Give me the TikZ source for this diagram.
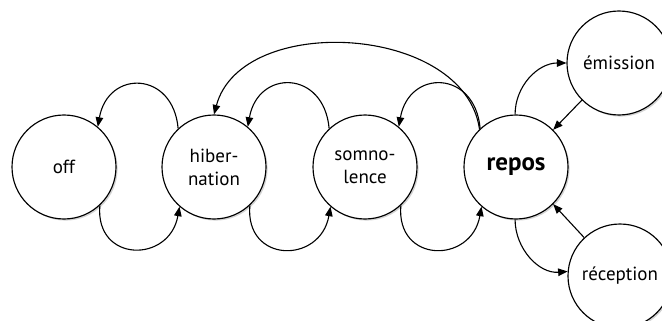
\documentclass[tikz,border=0pt]{standalone}
\usepackage{fontspec}
\setmainfont{PT Sans}
\usetikzlibrary{arrows.meta,shadows}
\begin{document}
\begin{tikzpicture}[x=1pt,y=1pt,
  state/.style={circle, draw, line width=1.15pt, fill=white,
    minimum size=104pt, inner sep=0pt, align=center,
    font=\fontsize{19}{23}\selectfont,
    drop shadow={shadow xshift=1.6pt, shadow yshift=-1.6pt, opacity=0.35}},
  link/.style={line width=1.1pt, -{Triangle[length=9.5pt,width=7.5pt]}}]
\useasboundingbox (0,0) rectangle (662,-321);
% power states, left to right
\node[state] (off) at (64,-167) {off};
\node[state] (hib) at (214,-167) {hiber-\\nation};
\node[state] (som) at (365,-167) {somno-\\lence};
\node[state, font=\bfseries\fontsize{25}{29}\selectfont] (rep) at (516,-167) {repos};
% radio states
\node[state] (emi) at (619,-63) {émission};
\node[state] (rec) at (620,-276) {réception};
% going down in power
\draw[link] (hib.133) to[out=95,in=80,looseness=1.85] (off.50);
\draw[link] (som.133) to[out=95,in=80,looseness=1.85] (hib.50);
\draw[link] (rep.133) to[out=95,in=80,looseness=1.85] (som.50);
\draw[link] (rep.134) to[out=98,in=75,looseness=1.02] (hib.90);
% waking up
\draw[link] (off.-47) to[out=-95,in=-100,looseness=1.85] (hib.-131);
\draw[link] (hib.-47) to[out=-95,in=-100,looseness=1.85] (som.-131);
\draw[link] (som.-47) to[out=-95,in=-100,looseness=1.85] (rep.-131);
% transmit / receive
\draw[link] (rep.91) to[out=90,in=180] (emi.180);
\draw[link] (emi.-135) -- (rep.45);
\draw[link] (rep.-91) to[out=-90,in=185] (rec.175);
\draw[link] (rec.133) -- (rep.-45);
\end{tikzpicture}
\end{document}
